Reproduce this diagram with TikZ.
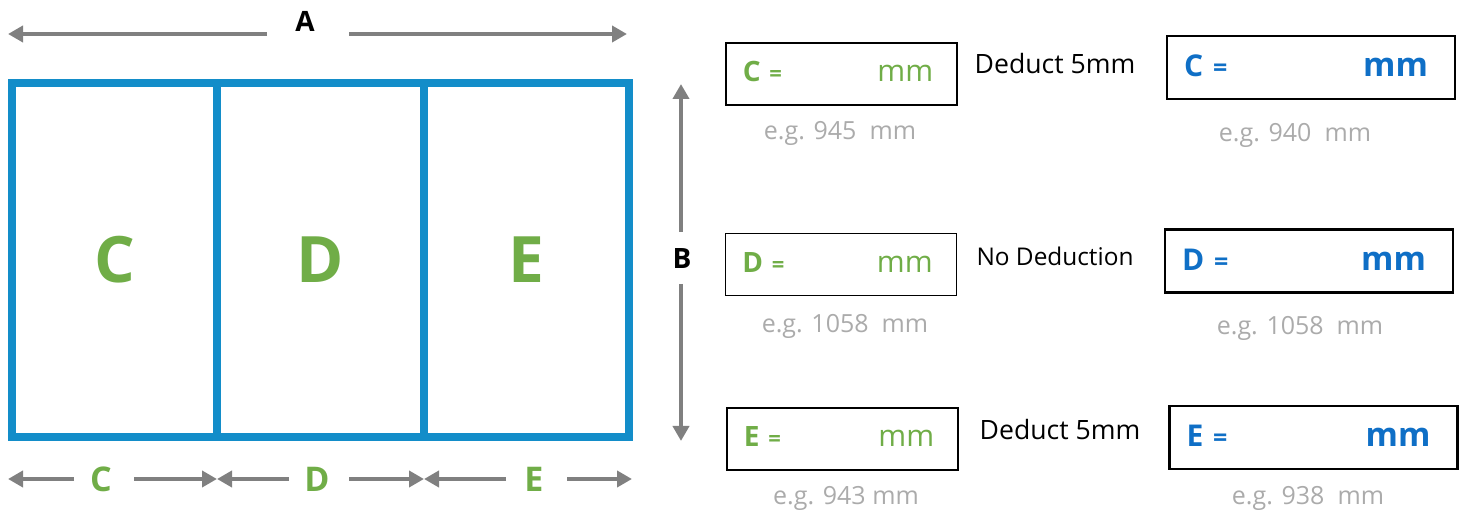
\documentclass[tikz,border=0pt]{standalone}
\usepackage{fontspec}
\setmainfont{Open Sans}
\usetikzlibrary{arrows.meta}
\definecolor{frameblue}{HTML}{138DC9}
\definecolor{lgreen}{HTML}{70AD47}
\definecolor{dblue}{HTML}{0F6FC6}
\definecolor{dimgray}{HTML}{808080}
\definecolor{txtgray}{HTML}{ABABAB}
\tikzset{
  dim/.style={draw=dimgray, line width=2pt, -{Triangle[length=7.5pt,width=8pt]}},
  panel/.style={draw=frameblue, line width=4pt, minimum height=177pt, inner sep=0pt, font=\fontsize{32}{32}\selectfont\bfseries, text=lgreen},
  dimlbl/.style={font=\fontsize{14}{14}\selectfont\bfseries, text=black, inner sep=0pt},
  sublbl/.style={font=\fontsize{17}{17}\selectfont\bfseries, text=lgreen, inner sep=0pt},
  inbox/.style={draw=black, line width=0.6pt, minimum width=115.5pt, minimum height=31pt, inner sep=0pt},
  outbox/.style={draw=black, line width=1.3pt, minimum width=144pt, minimum height=31.5pt, inner sep=0pt},
  invar/.style={font=\fontsize{14}{14}\selectfont\bfseries, text=lgreen, inner sep=0pt, anchor=base west},
  inmm/.style={font=\fontsize{15}{15}\selectfont, text=lgreen, inner sep=0pt, anchor=base east},
  outvar/.style={font=\fontsize{15}{15}\selectfont\bfseries, text=dblue, inner sep=0pt, anchor=base west},
  outmm/.style={font=\fontsize{16.5}{16.5}\selectfont\bfseries, text=dblue, inner sep=0pt, anchor=base east},
  eq/.style={font=\fontsize{11}{11}\selectfont\bfseries, inner sep=0pt, anchor=base west},
  eg/.style={font=\fontsize{12.5}{12.5}\selectfont, text=txtgray, inner sep=0pt},
  note/.style={font=\fontsize{13.3}{13.3}\selectfont, text=black, inner sep=0pt},
}
\begin{document}
\begin{tikzpicture}[x=0.5pt,y=-0.5pt]
\useasboundingbox (0,0) rectangle (1464,518);
% panels
\node[panel, minimum width=102.5pt] (pC) at (114.5,260) {C};
\node[panel, minimum width=103.5pt] (pD) at (320.5,260) {D};
\node[panel, minimum width=102.5pt] (pE) at (526.5,260) {E};
% dimension A
\node[dimlbl] (A) at (305,21) {A};
\coordinate (AL) at (8,34);
\coordinate (AR) at (627,34);
\coordinate (A1) at (267,34);
\coordinate (A2) at (349,34);
\draw[dim] (A1) -- (AL);
\draw[dim] (A2) -- (AR);
% dimension B
\node[dimlbl] (B) at (682,259) {B};
\coordinate (BT) at (681,84);
\coordinate (BB) at (681,441);
\coordinate (B1) at (681,232);
\coordinate (B2) at (681,284);
\draw[dim] (B1) -- (BT);
\draw[dim] (B2) -- (BB);
% bottom dimensions
\node[sublbl] (lC) at (101,479) {C};
\node[sublbl] (lD) at (317,479) {D};
\node[sublbl] (lE) at (534,479) {E};
\coordinate (x0) at (8,479);
\coordinate (x1) at (217,479);
\coordinate (x2) at (424,479);
\coordinate (x3) at (632,479);
\coordinate (c1) at (74,479); \coordinate (c2) at (134,479);
\coordinate (d1) at (289,479); \coordinate (d2) at (349,479);
\coordinate (e1) at (506,479); \coordinate (e2) at (567,479);
\draw[dim] (c1) -- (x0);
\draw[dim] (c2) -- (x1);
\draw[dim] (d1) -- (x1);
\draw[dim] (d2) -- (x2);
\draw[dim] (e1) -- (x2);
\draw[dim] (e2) -- (x3);
% left boxes
\node[inbox] (iC) at (841.5,74) {};
\node[inbox] (iD) at (841,264.5) {};
\node[inbox] (iE) at (842.5,439) {};
\foreach \n/\l in {iC/C,iD/D,iE/E}{
  \node[invar] (\n v) at ([xshift=8.5pt,yshift=-4pt]\n.west) {\l};
  \node[eq, text=lgreen] (\n q) at ([xshift=4pt]\n v.base east) {=};
  \node[inmm] (\n m) at ([xshift=-12pt,yshift=-4pt]\n.east) {mm};
}
% right boxes
\node[outbox] (oC) at (1311,67.5) {};
\node[outbox] (oD) at (1309,261) {};
\node[outbox] (oE) at (1313.5,437.5) {};
\foreach \n/\l in {oC/C,oD/D,oE/E}{
  \node[outvar] (\n v) at ([xshift=9pt,yshift=-4.75pt]\n.west) {\l};
  \node[eq, text=dblue, font=\fontsize{12.5}{12.5}\selectfont\bfseries] (\n q) at ([xshift=4.5pt]\n v.base east) {=};
  \node[outmm] (\n m) at ([xshift=-14pt,yshift=-4.75pt]\n.east) {mm};
}
% notes
\node[note] (n1) at (1055,64) {Deduct 5mm};
\node[note, font=\fontsize{12.2}{12.2}\selectfont] (n2) at (1055,256) {No Deduction};
\node[note] (n3) at (1060,430) {Deduct 5mm};
% examples
\node[eg] (g1) at (840,133) {e.g. 945~ mm};
\node[eg] (g2) at (1295,135) {e.g. 940~ mm};
\node[eg] (g3) at (845,326) {e.g. 1058~ mm};
\node[eg] (g4) at (1300,328) {e.g. 1058~ mm};
\node[eg] (g5) at (846,498) {e.g. 943 mm};
\node[eg] (g6) at (1308,498) {e.g. 938~ mm};
\end{tikzpicture}
\end{document}
